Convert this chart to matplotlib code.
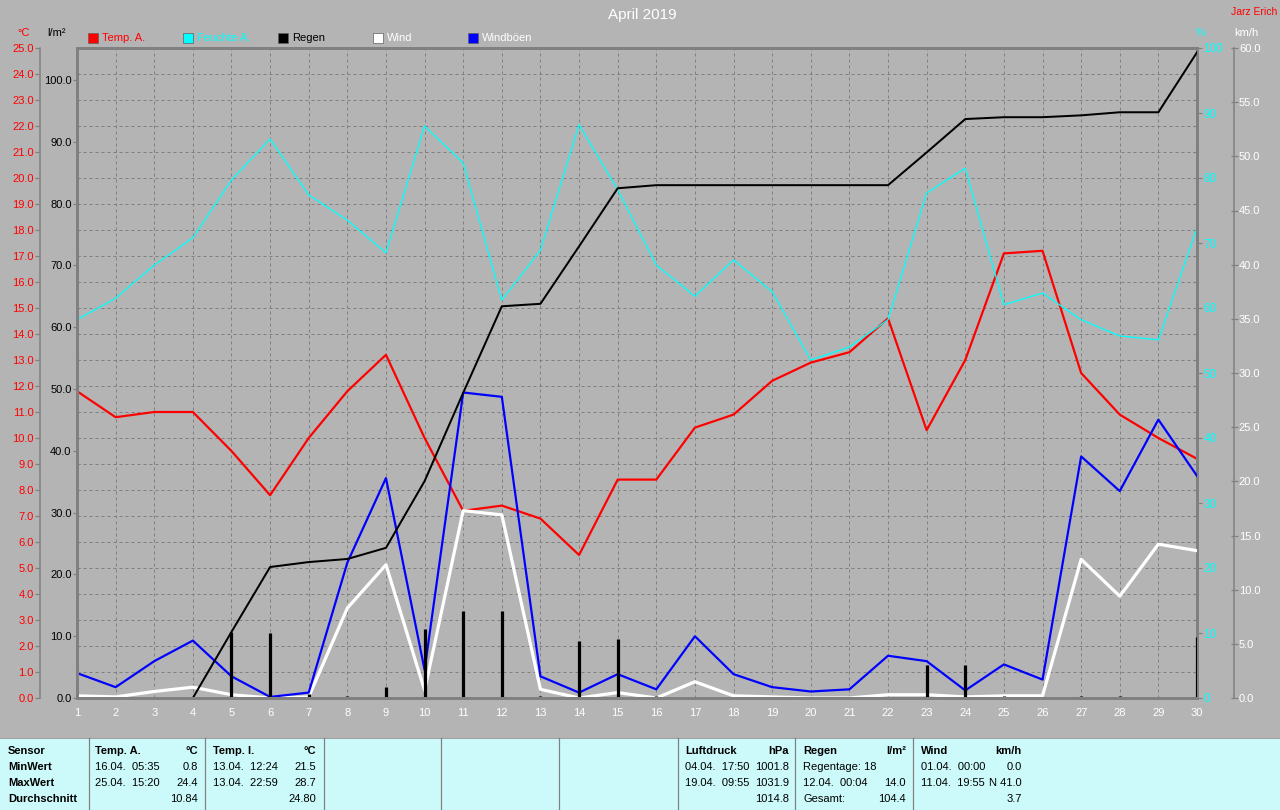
import numpy as np
import matplotlib
matplotlib.use('Agg')
import matplotlib.pyplot as plt
from matplotlib.patches import Rectangle
from matplotlib.lines import Line2D
from matplotlib.ticker import FormatStrFormatter

plt.rcParams['font.family'] = ['Liberation Sans', 'DejaVu Sans']

# ---------------- data ----------------
days = list(range(1, 31))
temp_a = [11.8, 10.8, 11.0, 11.0, 9.5, 7.8, 10.0, 11.8, 13.2, 10.0,
          7.2, 7.4, 6.9, 5.5, 8.4, 8.4, 10.4, 10.9, 12.2, 12.9,
          13.3, 14.6, 10.3, 13.0, 17.1, 17.2, 12.5, 10.9, 10.0, 9.2]
humidity = [58.2, 61.5, 66.6, 70.8, 79.7, 86.0, 77.4, 73.5, 68.5, 88.0,
            82.3, 61.2, 68.9, 88.2, 78.2, 66.6, 61.8, 67.4, 62.5, 52.0,
            54.0, 58.2, 77.7, 81.5, 60.5, 62.3, 58.2, 55.7, 55.1, 72.3]
rain_total = [0.0, 0.0, 0.0, 0.0, 10.7, 21.2, 22.0, 22.5, 24.3, 35.1,
              49.4, 63.4, 63.8, 73.1, 82.5, 83.0, 83.0, 83.0, 83.0, 83.0,
              83.0, 83.0, 88.3, 93.7, 94.0, 94.0, 94.3, 94.8, 94.8, 104.5]
rain_daily = [0.0, 0.0, 0.0, 0.0, 10.7, 10.5, 0.6, 0.3, 1.8, 11.2,
              14.0, 14.0, 0.3, 9.3, 9.6, 0.4, 0.0, 0.0, 0.0, 0.0,
              0.0, 0.0, 5.3, 5.3, 0.3, 0.0, 0.4, 0.4, 0.0, 9.9]
wind = [0.2, 0.1, 0.6, 1.0, 0.3, 0.0, 0.1, 8.3, 12.3, 0.7,
        17.3, 16.9, 0.8, 0.0, 0.5, 0.0, 1.5, 0.2, 0.1, 0.0,
        0.0, 0.3, 0.3, 0.1, 0.2, 0.2, 12.8, 9.4, 14.2, 13.6]
gusts = [2.3, 1.0, 3.4, 5.3, 2.0, 0.1, 0.5, 12.5, 20.3, 2.6,
         28.2, 27.8, 2.0, 0.5, 2.2, 0.8, 5.7, 2.2, 1.0, 0.6,
         0.8, 3.9, 3.4, 0.7, 3.1, 1.7, 22.3, 19.1, 25.7, 20.5]

title = 'April 2019'
author = 'Jarz Erich'
legend_labels = ['Temp. A.', 'Feuchte A.', 'Regen', 'Wind', 'Windböen']
temp_ticks = list(np.arange(0, 26, 1))
rain_ticks = list(range(0, 101, 10))
hum_ticks = list(range(0, 101, 10))
wind_ticks = list(np.arange(0, 61, 5))

sensor_rows = ['Sensor', 'MinWert', 'MaxWert', 'Durchschnitt']
temp_a_stats = [('Temp. A.', '°C'), ('16.04.  05:35', '0.8'), ('25.04.  15:20', '24.4'), ('', '10.84')]
temp_i_stats = [('Temp. I.', '°C'), ('13.04.  12:24', '21.5'), ('13.04.  22:59', '28.7'), ('', '24.80')]
pressure_stats = [('Luftdruck', 'hPa'), ('04.04.  17:50', '1001.8'), ('19.04.  09:55', '1031.9'), ('', '1014.8')]
rain_stats = [('Regen', 'l/m²'), ('Regentage: 18', ''), ('12.04.  00:04', '14.0'), ('Gesamt:', '104.4')]
wind_stats = [('Wind', 'km/h'), ('01.04.  00:00', '0.0'), ('11.04.  19:55', 'N 41.0'), ('', '3.7')]

# ---------------- styling ----------------
W, H = 1280, 810
BG = '#b4b4b4'
FRAME = '#808080'
RED, CYAN, BLUE = '#ff0000', '#00ffff', '#0000ff'
PT = 72 / 100.0  # points per pixel


def fx(x):
    return x / W


def fy(y):
    return 1 - y / H


fig = plt.figure(figsize=(W / 100, H / 100), dpi=100, facecolor=BG)
rect = [fx(77), fy(698), (1197 - 77) / W, (698 - 48) / H]

# temperature axes (base, with grid)
ax = fig.add_axes(rect)
ax.set_facecolor(BG)
ax.set_xlim(1, 30)
ax.set_ylim(0, 25)
ax.set_xticks(days)
ax.set_xticklabels([str(d) for d in days])
ax.set_yticks(temp_ticks)
ax.yaxis.set_major_formatter(FormatStrFormatter('%.1f'))
ax.grid(True, color=FRAME, linestyle=(0, (3, 3)), linewidth=1 * PT)
ax.set_axisbelow(True)
for s in ['top', 'bottom', 'right']:
    ax.spines[s].set_visible(False)
ax.spines['left'].set_position(('outward', 37 * PT))
ax.spines['left'].set_color(FRAME)
ax.spines['left'].set_linewidth(1.5 * PT)
ax.tick_params(axis='y', direction='out', length=5 * PT, width=1.2 * PT, color=FRAME,
               labelcolor=RED, labelsize=8, pad=1)
ax.tick_params(axis='x', length=0, labelcolor='white', labelsize=8, pad=7)
ax.plot(days, temp_a, color=RED, lw=2.2 * PT, zorder=3)

# humidity axes
ax_h = fig.add_axes(rect, sharex=ax, facecolor='none')
ax_h.set_ylim(0, 100)
for s in ['top', 'bottom', 'left']:
    ax_h.spines[s].set_visible(False)
ax_h.spines['right'].set_color(FRAME)
ax_h.spines['right'].set_linewidth(3 * PT)
ax_h.yaxis.tick_right()
ax_h.set_yticks(hum_ticks)
ax_h.set_yticks(list(range(0, 101, 4)), minor=True)
ax_h.yaxis.set_major_formatter(FormatStrFormatter('%d'))
ax_h.tick_params(axis='y', which='major', direction='out', length=5 * PT, width=1.2 * PT,
                 color=FRAME, labelcolor=CYAN, labelsize=8.5, pad=1)
ax_h.tick_params(axis='y', which='minor', direction='in', length=4 * PT, width=1.2 * PT,
                 color=FRAME)
ax_h.tick_params(axis='x', which='both', bottom=False, labelbottom=False)
ax_h.plot(days, humidity, color=CYAN, lw=1.3 * PT)

# wind axes
ax_w = fig.add_axes(rect, sharex=ax, facecolor='none')
ax_w.set_ylim(0, 60)
for s in ['top', 'bottom', 'left']:
    ax_w.spines[s].set_visible(False)
ax_w.spines['right'].set_position(('outward', 37 * PT))
ax_w.spines['right'].set_color(FRAME)
ax_w.spines['right'].set_linewidth(1.5 * PT)
ax_w.yaxis.tick_right()
ax_w.set_yticks(wind_ticks)
ax_w.yaxis.set_major_formatter(FormatStrFormatter('%.1f'))
ax_w.tick_params(axis='y', direction='inout', length=7 * PT, width=1.2 * PT, color=FRAME,
                 labelcolor='white', labelsize=8, pad=1)
ax_w.tick_params(axis='x', which='both', bottom=False, labelbottom=False)
ax_w.plot(days, wind, color='white', lw=3.2 * PT)
ax_w.plot(days, gusts, color=BLUE, lw=2.2 * PT)

# rain axes
RAIN_MAX = 105.2
ax_r = fig.add_axes(rect, sharex=ax, facecolor='none')
ax_r.set_ylim(0, RAIN_MAX)
ax_r.spines['right'].set_visible(False)
for s in ['top', 'bottom', 'left']:
    ax_r.spines[s].set_color(FRAME)
    ax_r.spines[s].set_linewidth(3 * PT)
ax_r.set_yticks(rain_ticks)
ax_r.set_yticks(list(np.arange(26) * RAIN_MAX / 25), minor=True)
ax_r.yaxis.set_major_formatter(FormatStrFormatter('%.1f'))
ax_r.tick_params(axis='y', which='major', direction='out', length=4 * PT, width=1.2 * PT,
                 color=FRAME, labelcolor='black', labelsize=8, pad=1)
ax_r.tick_params(axis='y', which='minor', direction='in', length=3 * PT, width=1.2 * PT,
                 color=FRAME)
ax_r.tick_params(axis='x', which='both', bottom=False, labelbottom=False)
ax_r.plot(days, rain_total, color='black', lw=2 * PT)
ax_r.vlines(days, 0, rain_daily, color='black', lw=3.2 * PT)

# ---------------- header texts ----------------
fig.text(fx(642), fy(15), title, color='white', fontsize=11, ha='center', va='center')
fig.text(fx(1277), fy(12), author, color=RED, fontsize=7.5, ha='right', va='center')
fig.text(fx(24), fy(33), '°C', color=RED, fontsize=8, ha='center', va='center')
fig.text(fx(57), fy(33), 'l/m²', color='black', fontsize=8, ha='center', va='center')
fig.text(fx(1201), fy(33), '%', color=CYAN, fontsize=8, ha='center', va='center')
fig.text(fx(1246), fy(33), 'km/h', color='white', fontsize=8, ha='center', va='center')

# legend
leg_colors = [RED, CYAN, 'black', 'white', BLUE]
leg_text_colors = [RED, CYAN, 'black', 'white', 'white']
leg_x = [88, 183, 278, 373, 468]
for lx, lab, c, tc in zip(leg_x, legend_labels, leg_colors, leg_text_colors):
    fig.add_artist(Rectangle((fx(lx), fy(43)), 10 / W, 10 / H, transform=fig.transFigure,
                             facecolor=c, edgecolor='#606060', linewidth=0.5))
    fig.text(fx(lx + 14), fy(38), lab, color=tc, fontsize=8, ha='left', va='center')

# ---------------- bottom table ----------------
fig.add_artist(Rectangle((0, 0), 1, fy(738), transform=fig.transFigure,
                         facecolor='#ccf9f9', edgecolor='none'))
fig.add_artist(Line2D([0, 1], [fy(737.5), fy(737.5)], transform=fig.transFigure,
                      color='#a0a0a0', lw=1 * PT))
for sx in [89, 205, 324, 441, 559, 678, 795, 913]:
    fig.add_artist(Line2D([fx(sx), fx(sx)], [fy(738), 0], transform=fig.transFigure,
                          color=FRAME, lw=1.2 * PT))

row_y = [751, 767, 783, 799]
for ry, lab in zip(row_y, sensor_rows):
    fig.text(fx(8), fy(ry), lab, color='black', fontsize=8, fontweight='bold',
             ha='left', va='center')

columns = [(95, 198, temp_a_stats), (213, 316, temp_i_stats), (685, 789, pressure_stats),
           (803, 906, rain_stats), (921, 1022, wind_stats)]
for xl, xr, stats in columns:
    for i, (ry, (left, right)) in enumerate(zip(row_y, stats)):
        weight = 'bold' if i == 0 else 'normal'
        if left:
            fig.text(fx(xl), fy(ry), left, color='black', fontsize=8, fontweight=weight,
                     ha='left', va='center')
        if right:
            fig.text(fx(xr), fy(ry), right, color='black', fontsize=8, fontweight=weight,
                     ha='right', va='center')

fig.savefig('out.png', dpi=100, facecolor=BG)
